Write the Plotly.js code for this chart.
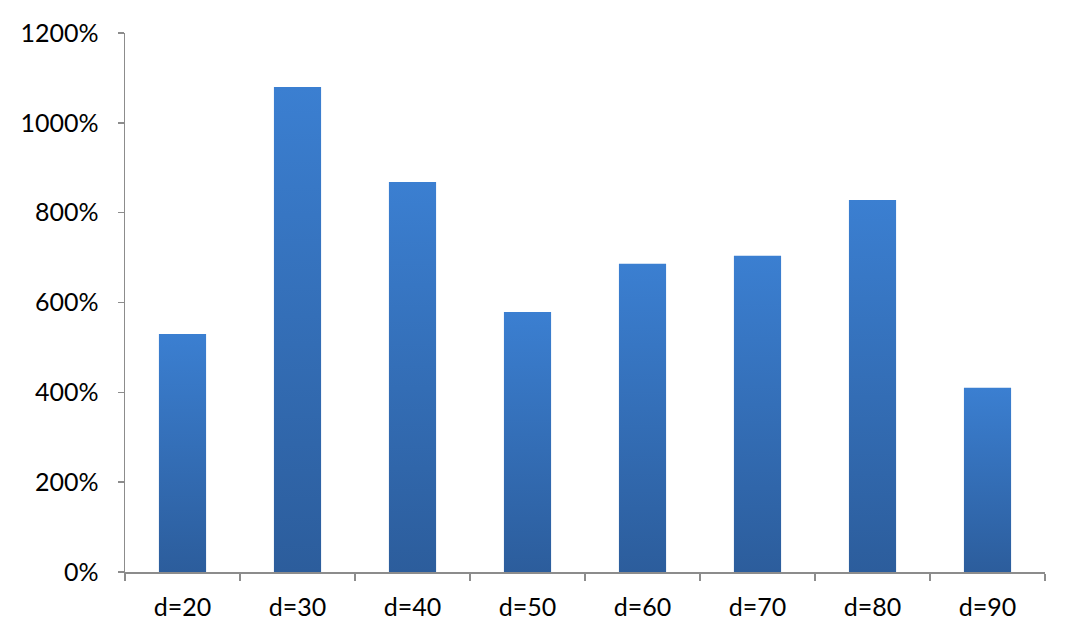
<!DOCTYPE html>
<html>
<head>
<meta charset="utf-8">
<script src="https://cdn.plot.ly/plotly-3.0.1.min.js"></script>
<style>html,body{margin:0;padding:0;background:#fff;}#chart{width:1077px;height:639px;}</style>
</head>
<body>
<div id="chart"></div>
<script>
const categories = ["d=20","d=30","d=40","d=50","d=60","d=70","d=80","d=90"];
const values = [5.30, 10.80, 8.68, 5.79, 6.86, 7.04, 8.28, 4.10];
const yTickVals = [0, 2, 4, 6, 8, 10, 12];
const yTickText = ["0%","200%","400%","600%","800%","1000%","1200%"];

const trace = {
  type: "bar",
  x: categories,
  y: values,
  marker: {color: "#3468B2", line: {width: 0}},
  hoverinfo: "x+y"
};
const layout = {
  width: 1077, height: 639,
  margin: {l: 125, r: 32, t: 33, b: 67},
  paper_bgcolor: "#fff", plot_bgcolor: "#fff",
  bargap: 0.59,
  showlegend: false,
  font: {family: "Lato, 'Open Sans', sans-serif", size: 25, color: "#000"},
  xaxis: {
    type: "category",
    showline: true, linecolor: "#8c8c8c", linewidth: 1.5,
    ticks: "outside", tickson: "boundaries", ticklen: 7, tickcolor: "#8c8c8c", tickwidth: 1.5,
    showgrid: false, zeroline: false,
    ticklabelstandoff: 12,
    tickfont: {size: 25}
  },
  yaxis: {
    range: [0, 12],
    tickvals: yTickVals, ticktext: yTickText,
    showline: true, linecolor: "#8c8c8c", linewidth: 1.5,
    ticks: "outside", ticklen: 6, tickcolor: "#8c8c8c", tickwidth: 1.5,
    showgrid: false, zeroline: false,
    ticklabelstandoff: 14,
    tickfont: {size: 25}
  }
};
Plotly.newPlot("chart", [trace], layout, {displayModeBar: false, staticPlot: true}).then(function(gd){
  const svg = gd.querySelector("svg.main-svg");
  const ns = "http://www.w3.org/2000/svg";
  let defs = svg.querySelector("defs");
  if (!defs) { defs = document.createElementNS(ns, "defs"); svg.insertBefore(defs, svg.firstChild); }
  const grad = document.createElementNS(ns, "linearGradient");
  grad.setAttribute("id", "barGrad");
  grad.setAttribute("x1", "0"); grad.setAttribute("y1", "0");
  grad.setAttribute("x2", "0"); grad.setAttribute("y2", "1");
  [["0%","#3B7FD1"],["100%","#2C5D9C"]].forEach(function(s){
    const st = document.createElementNS(ns, "stop");
    st.setAttribute("offset", s[0]); st.setAttribute("stop-color", s[1]);
    grad.appendChild(st);
  });
  defs.appendChild(grad);
  gd.querySelectorAll(".barlayer .point path").forEach(function(p){ p.style.fill = "url(#barGrad)"; });
});
</script>
</body>
</html>
